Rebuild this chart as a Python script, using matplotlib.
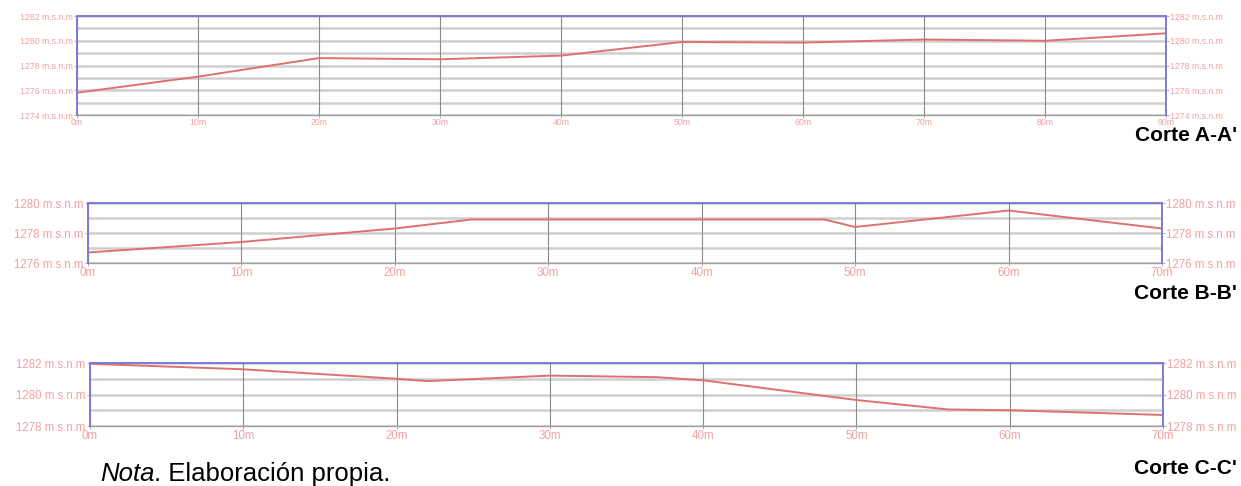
import matplotlib
matplotlib.use("Agg")
import matplotlib.pyplot as plt

plt.rcParams['font.family'] = ['Liberation Sans', 'DejaVu Sans']

# Corte A-A'
a_dist = [0, 10, 20, 30, 40, 50, 60, 70, 80, 90]
a_elev = [1275.8, 1277.1, 1278.6, 1278.5, 1278.8, 1279.9, 1279.85, 1280.1, 1280.0, 1280.6]
a_yticks = [1274, 1276, 1278, 1280, 1282]
a_xticks = [0, 10, 20, 30, 40, 50, 60, 70, 80, 90]

# Corte B-B'
b_dist = [0, 10, 20, 25, 48, 50, 60, 70]
b_elev = [1276.7, 1277.4, 1278.3, 1278.9, 1278.9, 1278.4, 1279.5, 1278.3]
b_yticks = [1276, 1278, 1280]
b_xticks = [0, 10, 20, 30, 40, 50, 60, 70]

# Corte C-C'
c_dist = [0, 10, 20, 22, 30, 37, 40, 50, 56, 60, 70]
c_elev = [1281.95, 1281.6, 1281.0, 1280.85, 1281.2, 1281.1, 1280.9, 1279.65, 1279.05, 1279.0, 1278.7]
c_yticks = [1278, 1280, 1282]
c_xticks = [0, 10, 20, 30, 40, 50, 60, 70]

W, H = 1241, 486
fig = plt.figure(figsize=(W / 100, H / 100), dpi=100)

BLUE = '#7b7bd6'
LABEL = '#f2a0a0'
LINE = '#e07070'


def make_ax(left, right, top, bottom, xs, ys, yticks, xticks, fs, xpad=1.2):
    ax = fig.add_axes([left / W, (H - bottom) / H, (right - left) / W, (bottom - top) / H])
    ax.plot(xs, ys, color=LINE, lw=1.4, zorder=3)
    ax.set_xlim(xticks[0], xticks[-1])
    ax.set_ylim(yticks[0], yticks[-1])
    ax.set_xticks(xticks)
    ax.set_xticklabels([f"{t}m" for t in xticks])
    ax.set_yticks(yticks)
    ax.set_yticklabels([f"{t} m.s.n.m" for t in yticks])
    for m in range(yticks[0], yticks[-1] + 1):
        ax.axhline(m, color='#cfcfcf', lw=1.8, zorder=1)
    for t in xticks:
        ax.axvline(t, color='#8a8a8a', lw=0.8, zorder=2)
    ax.tick_params(axis='both', colors='#9a9ad8', labelcolor=LABEL, labelsize=fs,
                   length=2, width=0.6)
    ax.tick_params(axis='x', pad=xpad)
    ax.tick_params(axis='y', right=True, labelright=True, pad=1)
    for s in ['top', 'left', 'right']:
        ax.spines[s].set_color(BLUE)
        ax.spines[s].set_linewidth(1.4)
        ax.spines[s].set_zorder(4)
    ax.spines['bottom'].set_color('#a0a0a0')
    ax.spines['bottom'].set_linewidth(1.0)
    return ax


make_ax(77, 1166, 16, 115, a_dist, a_elev, a_yticks, a_xticks, 6.3, xpad=0.4)
make_ax(88, 1162, 203, 263, b_dist, b_elev, b_yticks, b_xticks, 8.3)
make_ax(90, 1163, 363, 426, c_dist, c_elev, c_yticks, c_xticks, 8.3)

for label, base in [("Corte A-A'", 141), ("Corte B-B'", 299), ("Corte C-C'", 474)]:
    fig.text(1237 / W, 1 - base / H, label, ha='right', va='baseline',
             fontsize=15, fontweight='bold', color='black')

t1 = fig.text(100 / W, 1 - 481 / H, "Nota", ha='left', va='baseline', fontsize=18.5,
              fontstyle='italic', color='black')
fig.canvas.draw()
bb = t1.get_window_extent(renderer=fig.canvas.get_renderer())
fig.text(bb.x1 / W, 1 - 481 / H, ". Elaboración propia.", ha='left', va='baseline',
         fontsize=18.5, color='black')

fig.savefig("out.png", dpi=100)
